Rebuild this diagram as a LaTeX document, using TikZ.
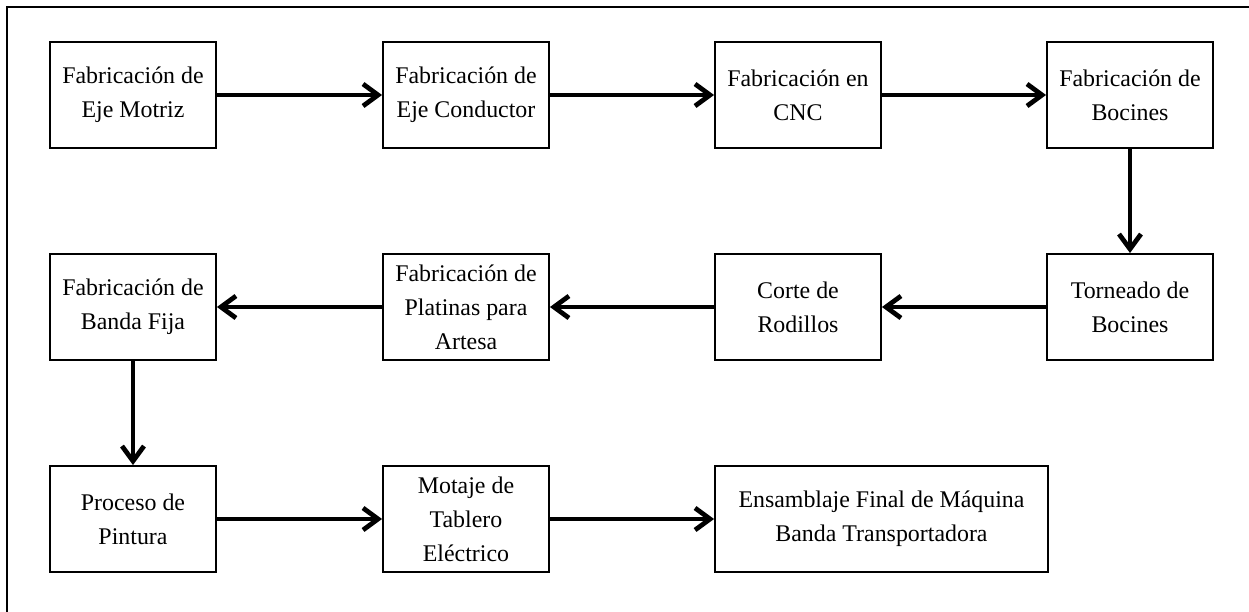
\documentclass[tikz,border=0pt]{standalone}
\usepackage{fontspec}
\setmainfont{Liberation Serif}
\usepackage{tikz}
\usetikzlibrary{arrows.meta}

\begin{document}
\begin{tikzpicture}[x=0.02cm, y=-0.02cm,
    stage/.style={draw, line width=1.1pt, minimum width=3.32cm, minimum height=2.12cm,
        align=center, inner sep=2pt, font=\fontsize{13.6}{19.4}\selectfont},
    wide/.style={stage, minimum width=6.66cm},
    flow/.style={line width=2.7pt, -{Straight Barb[length=0.3cm, width=0.44cm]}}]
    \useasboundingbox (0,0) rectangle (1249,612);
    \clip (0,0) rectangle (1249,612);
    \draw[line width=1.1pt] (7,640) -- (7,7) -- (1270,7);

    % row 1
    \node[stage] (motriz) at (133,95) {Fabricación de\\Eje Motriz};
    \node[stage] (conductor) at (466,95) {Fabricación de\\Eje Conductor};
    \node[stage] (cnc) at (798,95) {Fabricación en\\CNC};
    \node[stage] (bocines) at (1130,95) {Fabricación de\\Bocines};

    % row 2
    \node[stage] (torneado) at (1130,307) {Torneado de\\Bocines};
    \node[stage] (corte) at (798,307) {Corte de\\Rodillos};
    \node[stage] (platinas) at (466,307) {Fabricación de\\Platinas para\\Artesa};
    \node[stage] (banda) at (133,307) {Fabricación de\\Banda Fija};

    % row 3
    \node[stage] (pintura) at (133,519) {Proceso de\\Pintura};
    \node[stage] (tablero) at (466,519) {Motaje de\\Tablero\\Eléctrico};
    \node[wide] (final) at (881.5,519) {Ensamblaje Final de Máquina\\Banda Transportadora};

    \draw[flow] (motriz) -- (conductor);
    \draw[flow] (conductor) -- (cnc);
    \draw[flow] (cnc) -- (bocines);
    \draw[flow] (bocines) -- (torneado);
    \draw[flow] (torneado) -- (corte);
    \draw[flow] (corte) -- (platinas);
    \draw[flow] (platinas) -- (banda);
    \draw[flow] (banda) -- (pintura);
    \draw[flow] (pintura) -- (tablero);
    \draw[flow] (tablero) -- (final);
\end{tikzpicture}
\end{document}
